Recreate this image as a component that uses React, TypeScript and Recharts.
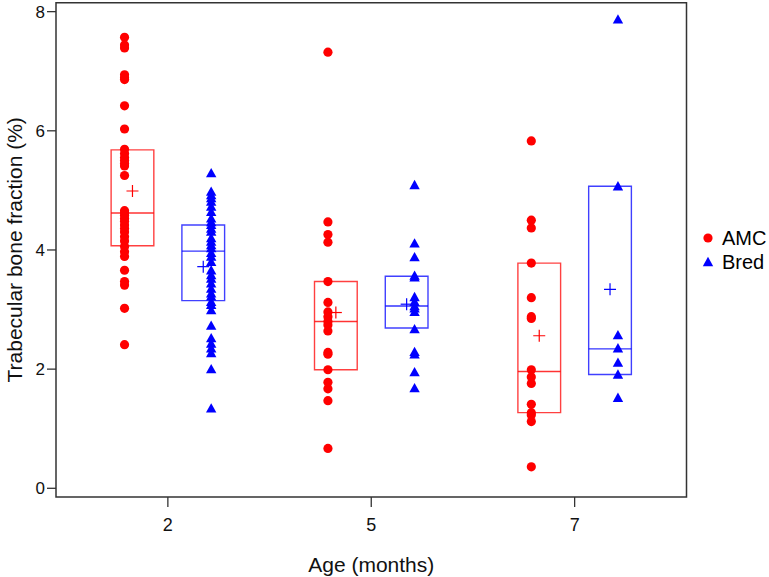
import React from 'react';
import {
  ComposedChart,
  Scatter,
  XAxis,
  YAxis,
  ReferenceArea,
  ReferenceLine,
  Legend,
} from 'recharts';

// ---- data ----
const ageLabels = ['2', '5', '7'];
const groupPositions = [1, 2, 3];

const amcAge2 = [7.57, 7.44, 7.39, 6.94, 6.89, 6.86, 6.42, 6.03, 5.69, 5.62, 5.55, 5.5, 5.45, 5.41, 5.25, 4.66, 4.62, 4.58, 4.53, 4.48, 4.42, 4.36, 4.3, 4.22, 4.15, 4.06, 3.97, 3.89, 3.66, 3.47, 3.41, 3.02, 2.41];
const amcAge5 = [7.32, 4.47, 4.26, 4.13, 3.47, 3.12, 2.96, 2.88, 2.8, 2.74, 2.64, 2.28, 2.25, 1.99, 1.78, 1.67, 1.47, 0.67];
const amcAge7 = [5.83, 4.5, 4.37, 3.78, 3.2, 2.88, 2.85, 1.99, 1.87, 1.76, 1.41, 1.27, 1.23, 1.12, 0.36];

const bredAge2 = [5.29, 4.98, 4.92, 4.87, 4.81, 4.73, 4.64, 4.53, 4.47, 4.42, 4.36, 4.31, 4.2, 4.14, 4.08, 4.03, 3.95, 3.89, 3.8, 3.66, 3.58, 3.52, 3.44, 3.35, 3.27, 3.22, 3.13, 3.08, 2.99, 2.73, 2.52, 2.43, 2.35, 2.27, 2.0, 1.34];
const bredAge5 = [5.09, 4.11, 3.88, 3.57, 3.54, 3.21, 3.13, 3.06, 3.02, 2.96, 2.67, 2.29, 2.25, 1.95, 1.68];
const bredAge7 = [7.87, 5.07, 2.57, 2.35, 2.11, 1.91, 1.52];

const amcQ1 = [4.07, 1.99, 1.27];
const amcMedian = [4.62, 2.8, 1.96];
const amcQ3 = [5.68, 3.47, 3.78];
const amcMean = [4.99, 2.95, 2.56];

const bredQ1 = [3.15, 2.69, 1.91];
const bredMedian = [3.98, 3.06, 2.34];
const bredQ3 = [4.42, 3.56, 5.07];
const bredMean = [3.72, 3.09, 3.34];

const yTicks = [0, 2, 4, 6, 8];

// ---- layout constants ----
const POINT_OFFSET = 0.213;
const BOX_OFFSET = 0.174;
const BOX_HALF = 0.105;
const X_DOMAIN: [number, number] = [0.45, 3.55];
const Y_DOMAIN: [number, number] = [-0.146, 8.15];
const FONT = '"Liberation Sans", Arial, Helvetica, sans-serif';
const RED = '#ff0000';
const BLUE = '#0000ff';
const FRAME = '#333333';

const amcValues = [amcAge2, amcAge5, amcAge7];
const bredValues = [bredAge2, bredAge5, bredAge7];

const amcPoints = amcValues.flatMap((vals, i) =>
  vals.map((v) => ({ x: groupPositions[i] - POINT_OFFSET, y: v }))
);
const bredPoints = bredValues.flatMap((vals, i) =>
  vals.map((v) => ({ x: groupPositions[i] + POINT_OFFSET, y: v }))
);

const boxes = [
  ...groupPositions.map((g, i) => ({
    key: `amc-${i}`,
    center: g - BOX_OFFSET,
    q1: amcQ1[i],
    med: amcMedian[i],
    q3: amcQ3[i],
    color: RED,
  })),
  ...groupPositions.map((g, i) => ({
    key: `bred-${i}`,
    center: g + BOX_OFFSET,
    q1: bredQ1[i],
    med: bredMedian[i],
    q3: bredQ3[i],
    color: BLUE,
  })),
];

const amcMeanPoints = groupPositions.map((g, i) => ({ x: g - BOX_OFFSET, y: amcMean[i] }));
const bredMeanPoints = groupPositions.map((g, i) => ({ x: g + BOX_OFFSET, y: bredMean[i] }));

const Circle = (props: any) => (
  <circle cx={props.cx} cy={props.cy} r={4.6} fill={RED} />
);

const Triangle = (props: any) => {
  const { cx, cy } = props;
  const s = 5.2;
  return (
    <path
      d={`M${cx},${cy - s} L${cx + s},${cy + s * 0.8} L${cx - s},${cy + s * 0.8} Z`}
      fill={BLUE}
    />
  );
};

const makeCross = (color: string) => (props: any) => {
  const { cx, cy } = props;
  const h = 6;
  return (
    <g stroke={color} strokeWidth={1.2}>
      <line x1={cx - h} y1={cy} x2={cx + h} y2={cy} />
      <line x1={cx} y1={cy - h} x2={cx} y2={cy + h} />
    </g>
  );
};

const legendItems = [
  { name: 'AMC', color: RED, kind: 'circle' },
  { name: 'Bred', color: BLUE, kind: 'triangle' },
];

const renderLegend = () => (
  <div style={{ fontFamily: FONT, fontSize: 20, color: '#000', textAlign: 'left' }}>
    {legendItems.map((it) => (
      <div key={it.name} style={{ display: 'flex', alignItems: 'center', height: 24 }}>
        <svg width={14} height={14} style={{ marginRight: 7, flex: 'none' }}>
          {it.kind === 'circle' ? (
            <circle cx={7} cy={7} r={4.6} fill={it.color} />
          ) : (
            <path d="M7,1.8 L12.2,11.2 L1.8,11.2 Z" fill={it.color} />
          )}
        </svg>
        <span>{it.name}</span>
      </div>
    ))}
  </div>
);

export default function App() {
  return (
    <div style={{ position: 'absolute', left: 0, top: 0, width: 769, height: 577, background: '#fff' }}>
      <ComposedChart
        width={769}
        height={577}
        margin={{ top: 2.7, right: 82.5, bottom: 0, left: 0 }}
      >
        <XAxis
          dataKey="x"
          type="number"
          domain={X_DOMAIN}
          allowDataOverflow
          ticks={groupPositions}
          tickFormatter={(v: number) => ageLabels[groupPositions.indexOf(v)] ?? ''}
          axisLine={false}
          tickLine={{ stroke: FRAME, strokeWidth: 1.3 }}
          tickSize={10}
          tickMargin={11}
          height={80}
          tick={{ fill: '#111', fontSize: 18, fontFamily: FONT }}
          label={{
            value: 'Age (months)',
            position: 'insideBottom',
            offset: 5,
            style: { fill: '#111', fontSize: 21, fontFamily: FONT },
          }}
        />
        <YAxis
          dataKey="y"
          type="number"
          domain={Y_DOMAIN}
          allowDataOverflow
          ticks={yTicks}
          axisLine={false}
          tickLine={{ stroke: FRAME, strokeWidth: 1.3 }}
          tickSize={9}
          tickMargin={2}
          width={56}
          tick={{ fill: '#111', fontSize: 17, fontFamily: FONT }}
          label={{
            value: 'Trabecular bone fraction (%)',
            angle: -90,
            position: 'insideLeft',
            offset: 15,
            style: { fill: '#111', fontSize: 21, fontFamily: FONT, textAnchor: 'middle' },
          }}
        />
        <ReferenceArea
          x1={X_DOMAIN[0]}
          x2={X_DOMAIN[1]}
          y1={Y_DOMAIN[0]}
          y2={Y_DOMAIN[1]}
          fill="none"
          stroke={FRAME}
          strokeWidth={1.5}
          ifOverflow="visible"
        />
        {boxes.map((b) => (
          <ReferenceArea
            key={b.key}
            x1={b.center - BOX_HALF}
            x2={b.center + BOX_HALF}
            y1={b.q1}
            y2={b.q3}
            fill="none"
            fillOpacity={0}
            stroke={b.color}
            strokeOpacity={0.75}
            strokeWidth={1.4}
            ifOverflow="visible"
          />
        ))}
        {boxes.map((b) => (
          <ReferenceLine
            key={`m-${b.key}`}
            segment={[
              { x: b.center - BOX_HALF, y: b.med },
              { x: b.center + BOX_HALF, y: b.med },
            ]}
            stroke={b.color}
            strokeOpacity={0.8}
            strokeWidth={1.4}
            ifOverflow="visible"
          />
        ))}
        <Scatter data={amcPoints} shape={Circle} isAnimationActive={false} />
        <Scatter data={bredPoints} shape={Triangle} isAnimationActive={false} />
        <Scatter data={amcMeanPoints} shape={makeCross(RED)} isAnimationActive={false} />
        <Scatter data={bredMeanPoints} shape={makeCross(BLUE)} isAnimationActive={false} />
        <Legend
          layout="horizontal"
          verticalAlign="middle"
          align="center"
          content={renderLegend}
          wrapperStyle={{ position: 'absolute', left: 701, top: 226, width: 68, height: 50 }}
        />
      </ComposedChart>
    </div>
  );
}
